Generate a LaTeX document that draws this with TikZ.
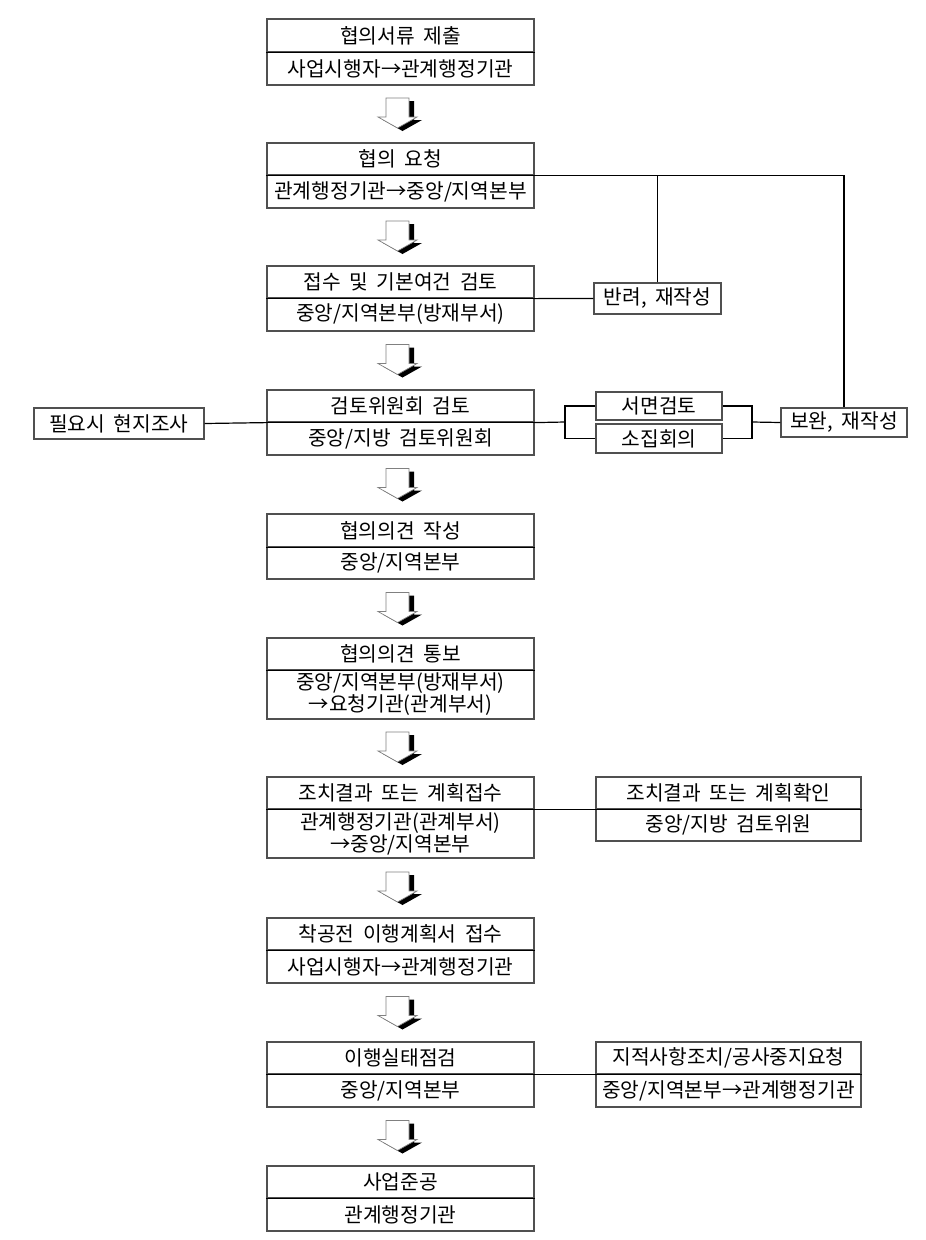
\documentclass[tikz,border=0pt]{standalone}
\usepackage{fontspec}
\setmainfont{Noto Sans CJK KR}[WordSpace=1.9]
\definecolor{boxgray}{HTML}{505050}
\definecolor{arrgray}{HTML}{808080}
\tikzset{
  kr/.style={font=\fontsize{20.3}{22}\selectfont},
  cell/.style={draw=boxgray, line width=1.2pt, inner sep=0pt, align=center, kr},
  mainbox/.style={cell, minimum width=267pt},
  sidebox/.style={cell, minimum width=265pt},
  divline/.style={black, line width=1.3pt},
  conn/.style={black, line width=1.2pt},
  blkarrow/.pic={
    \fill[black] (-9,-13) -- (14,-13) -- (14,6) -- (22,6) -- (2.5,17) -- (-17,6) -- (-9,6) -- cycle;
    \filldraw[fill=white, draw=arrgray, line width=0.7pt]
      (-14,-16) -- (9,-16) -- (9,3) -- (17,3) -- (-2.5,14) -- (-22,3) -- (-14,3) -- cycle;
  }
}
\begin{document}
\begin{tikzpicture}[x=1pt,y=-1pt]
\useasboundingbox[fill=white] (0,0) rectangle (926,1240);

% main column
\node[mainbox, minimum height=33pt] (b1t) at (400.5,35.5) {협의서류 제출};
\node[mainbox, minimum height=33pt] (b1b) at (400.5,68.5) {사업시행자→관계행정기관};
\node[mainbox, minimum height=32pt] (b2t) at (400.5,159) {협의 요청};
\node[mainbox, minimum height=33pt] (b2b) at (400.5,191.5) {관계행정기관→중앙/지역본부};
\node[mainbox, minimum height=32pt] (b3t) at (400.5,282) {접수 및 기본여건 검토};
\node[mainbox, minimum height=33pt] (b3b) at (400.5,314.5) {중앙/지역본부(방재부서)};
\node[mainbox, minimum height=32pt] (b4t) at (400.5,406) {검토위원회 검토};
\node[mainbox, minimum height=33pt] (b4b) at (400.5,438.5) {중앙/지방 검토위원회};
\node[mainbox, minimum height=33pt] (b5t) at (400.5,530.5) {협의의견 작성};
\node[mainbox, minimum height=32pt] (b5b) at (400.5,563) {중앙/지역본부};
\node[mainbox, minimum height=32pt] (b6t) at (400.5,654) {협의의견 통보};
\node[mainbox, minimum height=49pt] (b6b) at (400.5,694.5) {중앙/지역본부(방재부서)\\→요청기관(관계부서)};
\node[mainbox, minimum height=32pt] (b7t) at (400.5,793) {조치결과 또는 계획접수};
\node[mainbox, minimum height=49pt] (b7b) at (400.5,833.5) {관계행정기관(관계부서)\\→중앙/지역본부};
\node[mainbox, minimum height=32pt] (b8t) at (400.5,934) {착공전 이행계획서 접수};
\node[mainbox, minimum height=33pt] (b8b) at (400.5,966.5) {사업시행자→관계행정기관};
\node[mainbox, minimum height=32pt] (b9t) at (400.5,1058) {이행실태점검};
\node[mainbox, minimum height=33pt] (b9b) at (400.5,1090.5) {중앙/지역본부};
\node[mainbox, minimum height=32pt] (b10t) at (400.5,1182) {사업준공};
\node[mainbox, minimum height=33pt] (b10b) at (400.5,1214.5) {관계행정기관};

\foreach \n in {b1t,b2t,b3t,b4t,b5t,b6t,b7t,b8t,b9t,b10t}
  \draw[divline] (\n.south west) -- (\n.south east);

% block arrows between the boxes
\foreach \y in {114,237,360.5,484.5,608.5,748,888,1012.5,1136.5}
  \pic at (400,\y) {blkarrow};

% side boxes
\node[cell, minimum width=127pt, minimum height=31pt] (banryeo) at (657.5,298.5) {반려, 재작성};
\node[cell, minimum width=126pt, minimum height=28pt] (seomyeon) at (659,406) {서면검토};
\node[cell, minimum width=126pt, minimum height=29pt] (sojip) at (659,438.5) {소집회의};
\node[cell, minimum width=126pt, minimum height=29pt] (bowan) at (844,422.5) {보완, 재작성};
\node[cell, minimum width=170pt, minimum height=31pt] (hyunji) at (119,423.5) {필요시 현지조사};
\node[sidebox, minimum height=32pt] (r7t) at (728.5,793) {조치결과 또는 계획확인};
\node[sidebox, minimum height=32pt] (r7b) at (728.5,825) {중앙/지방 검토위원};
\node[sidebox, minimum height=32pt] (r9t) at (728.5,1058) {지적사항조치/공사중지요청};
\node[sidebox, minimum height=33pt] (r9b) at (728.5,1090.5) {중앙/지역본부→관계행정기관};
\draw[divline] (r7t.south west) -- (r7t.south east);
\draw[divline] (r9t.south west) -- (r9t.south east);

% connectors
\coordinate (lbr) at (565,422);
\coordinate (rbr) at (752,422);
\draw[conn] (b2t.south east) -- (b2t.south east -| bowan.north) -- (bowan.north);
\draw[conn] (banryeo.north) -- (banryeo.north |- b2t.south east);
\draw[conn] (b3t.south east) -- (banryeo.west);
\draw[conn] (hyunji.east) -- (b4t.south west);
\draw[conn] (b4t.south east) -- (lbr);
\draw[conn] (seomyeon.west) -- (seomyeon.west -| lbr) -- (sojip.west -| lbr) -- (sojip.west);
\draw[conn] (seomyeon.east) -- (seomyeon.east -| rbr) -- (sojip.east -| rbr) -- (sojip.east);
\draw[conn] (rbr) -- (bowan.west);
\draw[conn] (b7t.south east) -- (r7t.south west);
\draw[conn] (b9t.south east) -- (r9t.south west);
\end{tikzpicture}
\end{document}
